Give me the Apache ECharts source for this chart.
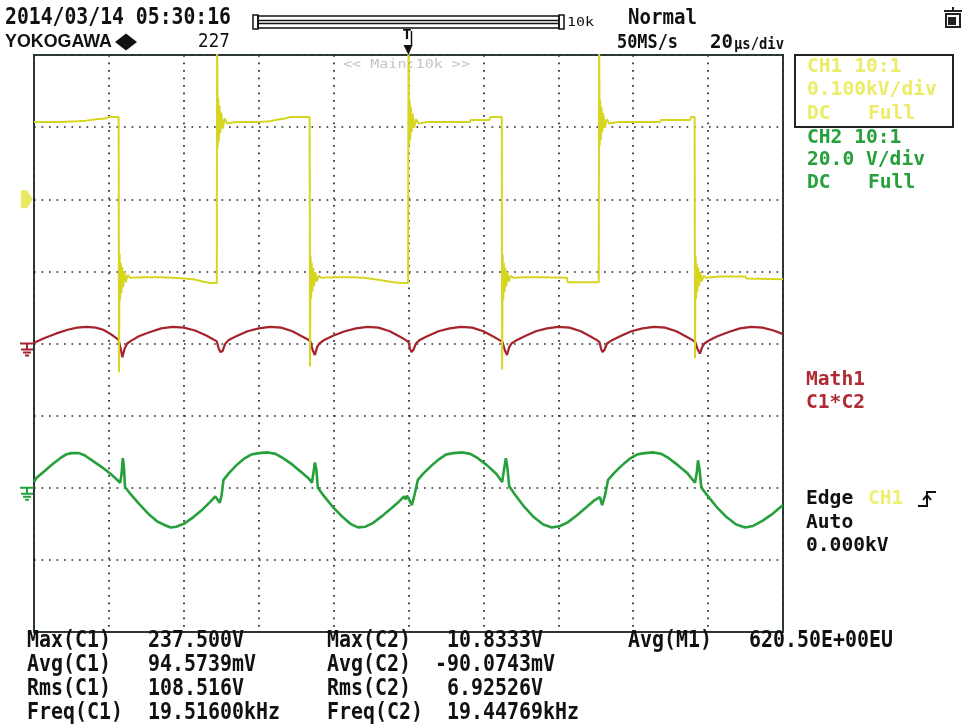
<!DOCTYPE html>
<html><head><meta charset="utf-8">
<script src="https://cdn.jsdelivr.net/npm/echarts@6/dist/echarts.min.js"></script>
<style>html,body{margin:0;padding:0;background:#fff;}#c{width:967px;height:727px;}</style>
</head><body><div id="c"></div>
<script>
// time in microseconds (trigger at 0, 20 us/div), amplitude in screen divisions
const ch1Wave = [
[-100,3.07],[-93,3.07],[-88.5,3.08],[-86,3.09],[-83.5,3.11],[-81,3.12],[-79.8,3.14],[-77.4,3.14],
[-77.3,-0.40],[-77.15,1.25],[-77.0,0.60],[-76.85,1.12],[-76.65,0.70],[-76.45,1.06],[-76.2,0.78],[-75.9,1.00],[-75.5,0.85],[-75.0,0.95],[-74.3,0.91],
[-71,0.92],[-66,0.92],[-63,0.91],[-60,0.90],[-57.5,0.89],[-55,0.86],[-53,0.84],[-51.2,0.84],
[-51.1,4.3],[-50.95,2.72],[-50.8,3.40],[-50.65,2.80],[-50.45,3.30],[-50.25,2.92],[-50.0,3.20],[-49.6,2.98],[-49.1,3.12],[-48.4,3.05],
[-46,3.07],[-40,3.07],[-37,3.08],[-35.6,3.10],[-33,3.12],[-31.6,3.14],[-26.4,3.14],
[-26.3,-0.32],[-26.15,1.22],[-26.0,0.62],[-25.85,1.12],[-25.65,0.72],[-25.45,1.05],[-25.2,0.80],[-24.9,0.99],[-24.5,0.86],[-24.0,0.94],[-23.3,0.91],
[-20,0.92],[-15,0.92],[-12,0.91],[-9,0.89],[-6.5,0.87],[-4,0.85],[-2,0.84],[-0.1,0.84],
[0.0,4.3],[0.15,2.75],[0.3,3.38],[0.45,2.82],[0.65,3.28],[0.85,2.93],[1.1,3.19],[1.5,2.99],[2.0,3.11],[2.7,3.05],
[5,3.07],[12,3.07],[16.4,3.07],[16.6,3.10],[21.6,3.10],[21.8,3.14],[24.9,3.14],
[25.0,-0.36],[25.15,1.23],[25.3,0.61],[25.45,1.12],[25.65,0.71],[25.85,1.05],[26.1,0.79],[26.4,0.99],[26.8,0.86],[27.3,0.94],[28.0,0.91],
[31,0.92],[35.1,0.92],[35.3,0.91],[42.3,0.91],[42.5,0.85],[50.8,0.85],
[50.9,4.3],[51.05,2.74],[51.2,3.38],[51.35,2.82],[51.55,3.28],[51.75,2.93],[52.0,3.19],[52.4,2.99],[52.9,3.11],[53.6,3.05],
[56,3.07],[67.2,3.07],[67.4,3.10],[75.2,3.10],[75.4,3.14],[76.4,3.14],
[76.5,-0.20],[76.65,1.22],[76.8,0.62],[76.95,1.11],[77.15,0.72],[77.35,1.05],[77.6,0.80],[77.9,0.99],[78.3,0.86],[78.8,0.94],[79.5,0.91],
[83,0.93],[90,0.93],[90.2,0.90],[100,0.89]
];
const mathWave = [
[-100,0.01],[-97,0.08],[-94,0.14],[-91,0.19],[-88.5,0.22],[-86,0.23],[-83.5,0.22],[-81.5,0.19],[-79.5,0.13],[-78.2,0.08],[-77.4,0.05],[-76.9,-0.06],[-76.4,-0.19],[-75.8,-0.07],[-75.1,0.0],
[-74,0.04],[-72,0.10],[-69,0.16],[-66,0.21],[-63,0.23],[-60,0.22],[-57,0.18],[-54,0.11],[-52.2,0.06],[-51.2,0.03],[-50.7,-0.07],[-50.2,-0.12],[-49.6,-0.10],[-49.0,-0.01],
[-48,0.05],[-46,0.10],[-43,0.17],[-40,0.21],[-37,0.23],[-34,0.22],[-31,0.17],[-28.5,0.10],[-27,0.06],[-26.2,0.03],[-25.6,-0.09],[-25.0,-0.16],[-24.4,-0.05],[-23.8,0.0],
[-22.5,0.05],[-20,0.11],[-17,0.17],[-14,0.21],[-11,0.23],[-8,0.22],[-5,0.17],[-2.5,0.10],[-0.8,0.05],[0,0.02],[0.4,-0.07],[0.8,-0.12],[1.3,-0.09],[2.0,0.0],
[3,0.05],[5,0.10],[8,0.17],[11,0.21],[14,0.23],[17,0.22],[20,0.17],[22.5,0.10],[24.2,0.05],[25.1,0.02],[25.7,-0.09],[26.3,-0.16],[26.9,-0.05],[27.5,0.0],
[29,0.05],[31,0.10],[34,0.17],[37,0.21],[40,0.23],[43,0.22],[46,0.17],[48.5,0.10],[50.2,0.05],[51,0.02],[51.4,-0.07],[51.8,-0.12],[52.3,-0.09],[53,0.0],
[54.5,0.05],[56.5,0.10],[59.5,0.17],[62.5,0.21],[65.5,0.23],[68.5,0.22],[71.5,0.17],[74,0.10],[75.7,0.05],[76.6,0.02],[77.2,-0.08],[77.8,-0.14],[78.4,-0.05],[79,0.0],
[80.5,0.05],[82.5,0.10],[85.5,0.16],[88.5,0.21],[91.5,0.23],[94.5,0.22],[97.5,0.18],[100,0.13]
];
const ch2Wave = [
[-100,-1.92],[-99.3,-1.86],[-97,-1.76],[-95,-1.67],[-93,-1.59],[-91.5,-1.54],[-90,-1.52],[-88,-1.52],[-86.5,-1.55],[-84.5,-1.62],[-82,-1.71],[-79.5,-1.81],[-77.6,-1.90],[-77.0,-1.93],
[-76.6,-1.80],[-76.3,-1.59],[-76.0,-1.70],[-75.7,-1.99],[-74.5,-2.07],[-72,-2.22],[-69.5,-2.36],[-67,-2.47],[-65,-2.52],[-63.5,-2.55],[-62,-2.54],[-60,-2.50],[-57.5,-2.41],[-55,-2.30],[-53,-2.20],[-51.6,-2.12],
[-50.9,-2.17],[-50.4,-2.21],[-49.9,-2.10],[-49.4,-1.89],[-48,-1.80],[-46,-1.69],[-44,-1.60],[-42,-1.54],[-40,-1.52],[-37.5,-1.51],[-35.5,-1.53],[-33.5,-1.59],[-31,-1.68],[-28.5,-1.79],[-26.5,-1.88],[-25.8,-1.93],
[-25.4,-1.80],[-25.0,-1.65],[-24.6,-1.75],[-24.2,-2.00],[-22.5,-2.12],[-20,-2.28],[-17.5,-2.41],[-15.5,-2.50],[-13.5,-2.55],[-11.5,-2.54],[-9.5,-2.49],[-7,-2.39],[-4.5,-2.28],[-2.5,-2.19],[-1.2,-2.12],
[-0.8,-2.16],[-0.4,-2.11],[0.4,-2.19],[0.9,-2.24],[1.6,-2.10],[2.5,-1.89],[4,-1.80],[6,-1.70],[8,-1.61],[10,-1.54],[12,-1.52],[14.5,-1.51],[16.5,-1.53],[18.5,-1.59],[21,-1.69],[23.5,-1.81],[25.0,-1.92],
[25.5,-1.75],[26.0,-1.59],[26.4,-1.72],[26.9,-1.98],[28.5,-2.10],[31,-2.27],[33.5,-2.41],[36,-2.51],[38.3,-2.55],[40.5,-2.53],[42.5,-2.48],[45,-2.38],[47.5,-2.27],[49.5,-2.18],[51.1,-2.13],
[51.7,-2.24],[52.4,-2.12],[53.3,-1.89],[55,-1.79],[57,-1.69],[59,-1.60],[61,-1.54],[63,-1.52],[65.5,-1.51],[67.5,-1.53],[69.5,-1.59],[72,-1.69],[74.5,-1.80],[76.5,-1.93],
[77.0,-1.78],[77.3,-1.62],[77.7,-1.74],[78.2,-2.00],[80,-2.12],[82.5,-2.28],[85,-2.41],[87.5,-2.51],[89.9,-2.55],[92,-2.53],[94.5,-2.46],[97,-2.37],[100,-2.24]
];
const groundLevels = { ch1: 2, math: 0, ch2: -2 };
const headerLine1 = ['2014/03/14 05:30:16', 'Normal', '10k'];
const headerLine2 = ['YOKOGAWA', '227', '50MS/s', '20', 'µs/div'];
const ch1Info = ['CH1 10:1', '0.100kV/div', 'DC', 'Full'];
const ch2Info = ['CH2 10:1', '20.0 V/div', 'DC', 'Full'];
const mathInfo = ['Math1', 'C1*C2'];
const trigInfo = ['Edge', 'CH1', 'Auto', '0.000kV'];
const measRows = [
  ['Max(C1)', '237.500V', 'Max(C2)', ' 10.8333V', 'Avg(M1)', '620.50E+00EU'],
  ['Avg(C1)', '94.5739mV', 'Avg(C2)', '-90.0743mV'],
  ['Rms(C1)', '108.516V', 'Rms(C2)', ' 6.92526V'],
  ['Freq(C1)', '19.51600kHz', 'Freq(C2)', ' 19.44769kHz']
];

const C_Y = '#d6d622', C_R = '#a5232c', C_G = '#25a03a';
const chart = echarts.init(document.getElementById('c'), null, {renderer: 'canvas'});
const dotted = {show: true, lineStyle: {color: '#2a2a2a', width: 1.7, type: [1.7, 5.8]}};
chart.setOption({
  animation: false,
  backgroundColor: '#fff',
  grid: {left: 34, top: 55, width: 749, height: 577, show: true, borderColor: '#2a3b3a', borderWidth: 2},
  xAxis: {type: 'value', min: -100, max: 100, interval: 20, axisLine: {show: false}, axisTick: {show: false}, axisLabel: {show: false}, splitLine: dotted},
  yAxis: {type: 'value', min: -4, max: 4, interval: 1, axisLine: {show: false}, axisTick: {show: false}, axisLabel: {show: false}, splitLine: dotted},
  series: [
    {type: 'line', data: ch2Wave, symbol: 'none', clip: true, lineStyle: {color: C_G, width: 2.6}, z: 3},
    {type: 'line', data: mathWave, symbol: 'none', clip: true, lineStyle: {color: C_R, width: 2.2}, z: 4},
    {type: 'line', data: ch1Wave, symbol: 'none', clip: true, lineStyle: {color: C_Y, width: 2}, z: 5}
  ]
});

const mctx = document.createElement('canvas').getContext('2d');
function txt(x, y, s, o) {
  const size = o.size, fam = o.font || 'DejaVu Sans Mono', w = o.weight || 'normal';
  mctx.font = w + ' ' + size + 'px "' + fam + '"';
  const mw = mctx.measureText(s).width || 1;
  let sx = 1;
  if (o.width) sx = o.width / mw; else if (o.cw) sx = o.cw * s.length / mw;
  return {type: 'text', x: x, y: y, scaleX: sx, silent: true, z: 100,
    style: {text: s, fontSize: size, fontFamily: fam, fontWeight: w, fill: o.color || '#111', align: 'left', verticalAlign: 'middle'}};
}
function ln(x1, y1, x2, y2, c, w) {
  return {type: 'line', silent: true, z: 100, shape: {x1, y1, x2, y2}, style: {stroke: c || '#111', lineWidth: w || 2}};
}
function ground(y, c) {
  return [ln(20, y, 34, y, c, 2), ln(27, y, 27, y + 6, c, 2), ln(21, y + 6, 33, y + 6, c, 2), ln(23, y + 9, 31, y + 9, c, 2), ln(25, y + 12, 29, y + 12, c, 2)];
}
const yCh1 = chart.convertToPixel({gridIndex: 0}, [-100, groundLevels.ch1])[1];
const yMath = chart.convertToPixel({gridIndex: 0}, [-100, groundLevels.math])[1];
const yCh2 = chart.convertToPixel({gridIndex: 0}, [-100, groundLevels.ch2])[1];
const xTrig = chart.convertToPixel({gridIndex: 0}, [0, 0])[0];

const g = [];
// header
g.push(txt(5, 18.5, headerLine1[0], {size: 23, weight: 'bold', width: 226}));
g.push(txt(628, 18.5, headerLine1[1], {size: 22, weight: 'bold', width: 69}));
g.push(txt(567, 23, headerLine1[2], {size: 13, width: 27}));
g.push(txt(5, 42, headerLine2[0], {size: 18, font: 'Liberation Sans', weight: 'bold', width: 107}));
g.push({type: 'polygon', silent: true, z: 100, shape: {points: [[115, 42], [126, 33.5], [137, 42], [126, 50.5]]}, style: {fill: '#111'}});
g.push(txt(198, 42, headerLine2[1], {size: 19, font: 'DejaVu Sans', width: 32}));
g.push(txt(617, 43.5, headerLine2[2], {size: 19, weight: 'bold', width: 61}));
g.push(txt(710, 43.5, headerLine2[3], {size: 19, weight: 'bold', width: 23}));
g.push(txt(734, 44.5, headerLine2[4], {size: 16, weight: 'bold', width: 50}));
// record bar
g.push({type: 'rect', silent: true, z: 100, shape: {x: 253, y: 15, width: 5, height: 14}, style: {fill: 'none', stroke: '#111', lineWidth: 1.5}});
g.push({type: 'rect', silent: true, z: 100, shape: {x: 559, y: 15, width: 5, height: 14}, style: {fill: 'none', stroke: '#111', lineWidth: 1.5}});
g.push({type: 'rect', silent: true, z: 100, shape: {x: 258, y: 16, width: 301, height: 12}, style: {fill: 'none', stroke: '#111', lineWidth: 1.5}});
g.push(ln(258, 20.5, 559, 20.5, '#111', 1.5), ln(258, 23.5, 559, 23.5, '#111', 1.5));
// printer icon
g.push(ln(953, 7, 953, 11, '#222', 2), ln(944, 11, 962, 11, '#222', 2));
g.push({type: 'rect', silent: true, z: 100, shape: {x: 946, y: 14, width: 14, height: 13}, style: {fill: '#fff', stroke: '#222', lineWidth: 2}});
g.push({type: 'rect', silent: true, z: 100, shape: {x: 948, y: 17, width: 8, height: 8}, style: {fill: '#222'}});
// trigger marker
g.push(txt(xTrig - 6, 35, 'T', {size: 14, weight: 'bold', width: 9}));
g.push(ln(xTrig + 3, 31, xTrig + 3, 46, '#111', 1.5));
g.push({type: 'polygon', silent: true, z: 100, shape: {points: [[xTrig - 5, 45], [xTrig + 4, 45], [xTrig, 55]]}, style: {fill: '#111'}});
g.push(txt(343, 65, '<< Main:10k >>', {size: 13, width: 127, color: '#c4c4c4'}));
// level markers
g.push({type: 'polygon', silent: true, z: 100, shape: {points: [[21, yCh1 - 9], [27, yCh1 - 9], [33, yCh1], [27, yCh1 + 9], [21, yCh1 + 9]]}, style: {fill: '#eaea62'}});
ground(yMath, C_R).forEach(e => g.push(e));
ground(yCh2, C_G).forEach(e => g.push(e));
// right panel
g.push({type: 'rect', silent: true, z: 100, shape: {x: 795, y: 55, width: 158, height: 72}, style: {fill: 'none', stroke: '#222', lineWidth: 2}});
const CY = '#ecec6a';
g.push(txt(807, 67.5, ch1Info[0], {size: 19, weight: 'bold', cw: 11.8, color: CY}));
g.push(txt(807, 90.5, ch1Info[1], {size: 19, weight: 'bold', cw: 11.8, color: CY}));
g.push(txt(807, 114.5, ch1Info[2], {size: 19, weight: 'bold', cw: 11.8, color: CY}));
g.push(txt(868, 114.5, ch1Info[3], {size: 19, weight: 'bold', cw: 11.8, color: CY}));
g.push(txt(807, 138, ch2Info[0], {size: 19, weight: 'bold', cw: 11.8, color: C_G}));
g.push(txt(807, 160.5, ch2Info[1], {size: 19, weight: 'bold', cw: 11.8, color: C_G}));
g.push(txt(807, 183, ch2Info[2], {size: 19, weight: 'bold', cw: 11.8, color: C_G}));
g.push(txt(868, 183, ch2Info[3], {size: 19, weight: 'bold', cw: 11.8, color: C_G}));
g.push(txt(806, 380.5, mathInfo[0], {size: 19, weight: 'bold', cw: 11.8, color: '#b02a35'}));
g.push(txt(806, 403.5, mathInfo[1], {size: 19, weight: 'bold', cw: 11.8, color: '#b02a35'}));
g.push(txt(806, 499, trigInfo[0], {size: 19, weight: 'bold', cw: 11.8}));
g.push(txt(868, 499, trigInfo[1], {size: 19, weight: 'bold', cw: 11.8, color: '#f0f070'}));
g.push({type: 'polyline', silent: true, z: 100, shape: {points: [[918, 506], [927, 506], [927, 492], [936, 492]]}, style: {stroke: '#111', lineWidth: 2, fill: 'none'}});
g.push({type: 'polyline', silent: true, z: 100, shape: {points: [[923, 500], [927, 495], [931, 500]]}, style: {stroke: '#111', lineWidth: 2, fill: 'none'}});
g.push(txt(806, 523.5, trigInfo[2], {size: 19, weight: 'bold', cw: 11.8}));
g.push(txt(806, 546.5, trigInfo[3], {size: 19, weight: 'bold', cw: 11.8}));
// measurements
const colX = [27, 148, 327, 435, 628, 749];
const rowY = [641, 665, 689, 713];
measRows.forEach((row, r) => row.forEach((s, c) => g.push(txt(colX[c], rowY[r], s, {size: 23, weight: 'bold', cw: 12}))));

chart.setOption({graphic: g});
</script></body></html>
